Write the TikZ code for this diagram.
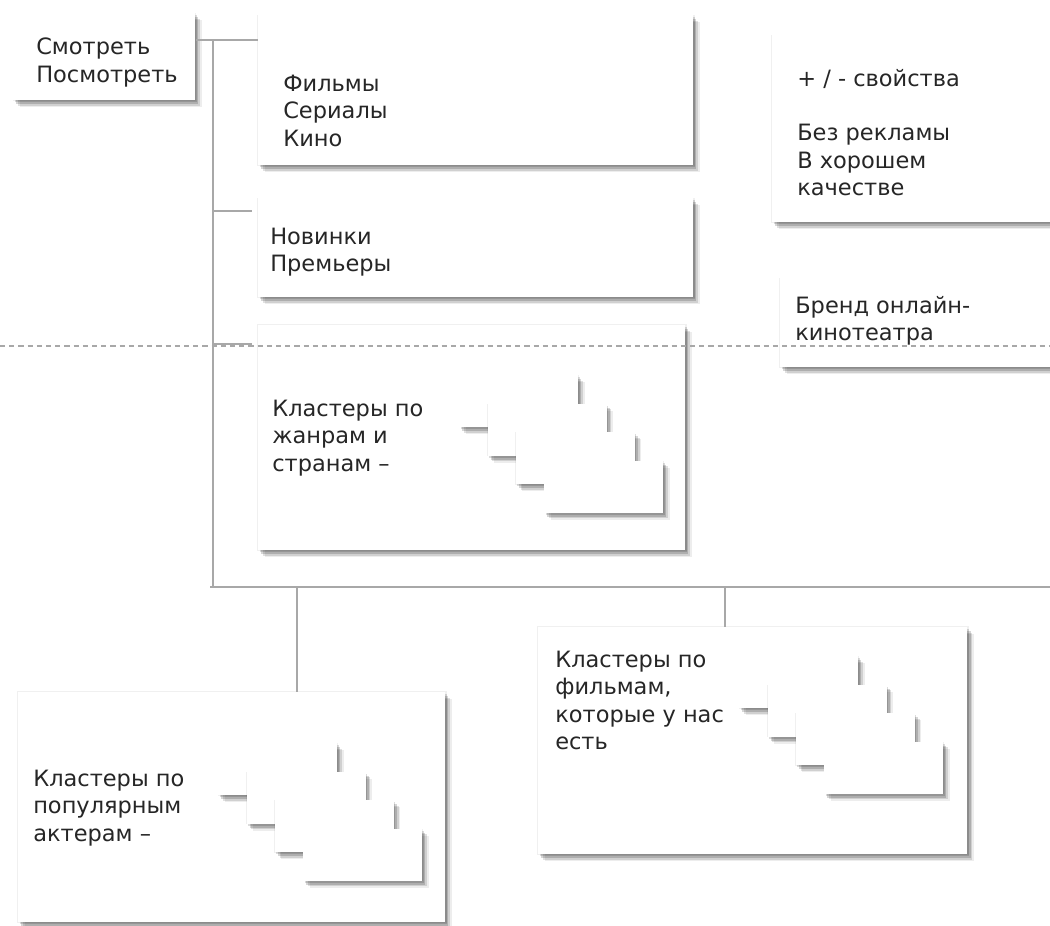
\documentclass[tikz,border=0pt]{standalone}
\usepackage{fontspec}
\setmainfont{DejaVu Sans}
\usetikzlibrary{shadows}
\definecolor{linegray}{HTML}{A8A8A8}
\definecolor{inkgray}{HTML}{262626}
\begin{document}
\begin{tikzpicture}[x=0.25mm,y=-0.25mm,
  every node/.style={font=\fontsize{16}{19.4}\selectfont, text=inkgray},
  panel/.style={fill=white, inner sep=0pt, anchor=north west,
    drop shadow={shadow xshift=0mm, shadow yshift=0mm, shadow scale=1.008, fill=black, opacity=0.06},
    drop shadow={shadow xshift=1.6mm, shadow yshift=-1.8mm, fill=black, opacity=0.07},
    drop shadow={shadow xshift=1.2mm, shadow yshift=-1.4mm, fill=black, opacity=0.12},
    drop shadow={shadow xshift=0.8mm, shadow yshift=-1mm, fill=black, opacity=0.16},
    drop shadow={shadow xshift=0.4mm, shadow yshift=-0.5mm, fill=black, opacity=0.14}},
  card/.style={panel, minimum width=29.75mm, minimum height=13mm},
  txt/.style={anchor=north west, inner sep=0pt, align=left},
  link/.style={draw=linegray, line width=0.4mm},
  dashline/.style={draw=linegray, line width=0.35mm, dash pattern=on 1.3mm off 1mm}
]

\fill[white] (0,0) rectangle (1050,925);
\useasboundingbox (0,0) rectangle (1050,925);

% boxes
\node [panel, minimum width=45.5mm, minimum height=21.75mm] (b1) at (13,13) {};
\node [panel, minimum width=108.75mm, minimum height=37.5mm] (b2) at (258,15) {};
\node [panel, minimum width=72.5mm, minimum height=46.75mm] (b3) at (772,35) {};
\node [panel, minimum width=108.75mm, minimum height=24.75mm] (b4) at (258,198) {};
\node [panel, minimum width=72.5mm, minimum height=22.25mm] (b5) at (780,278) {};
\node [panel, minimum width=106.75mm, minimum height=56.25mm] (b6) at (258,325) {};
\node [panel, minimum width=106.75mm, minimum height=57.5mm] (b7) at (18,692) {};
\node [panel, minimum width=107.25mm, minimum height=56.75mm] (b8) at (538,627) {};

% stacked cards
\foreach \i in {0,...,3} {
  \node [card] (g\i) at (459+28.3*\i,375+28.5*\i) {};
}
\foreach \i in {0,...,3} {
  \node [card] (a\i) at (218+28.3*\i,743+28.5*\i) {};
}
\foreach \i in {0,...,3} {
  \node [card] (f\i) at (739+28.3*\i,656+28.5*\i) {};
}

% texts
\node [txt] (b1t) at (36,38) {Смотреть\\Посмотреть};
\node [txt] (b2t) at (283,75) {Фильмы\\Сериалы\\Кино};
\node [txt] (b3t) at (797,69) {+ / - свойства\\[19.4pt]Без рекламы\\В хорошем\\качестве};
\node [txt] (b4t) at (270,228) {Новинки\\Премьеры};
\node [txt] (b5t) at (795,296) {Бренд онлайн-\\кинотеатра};
\node [txt] (b6t) at (272,400) {Кластеры по\\жанрам и\\странам --};
\node [txt] (b7t) at (33,770) {Кластеры по\\популярным\\актерам --};
\node [txt] (b8t) at (555,651) {Кластеры по\\фильмам,\\которые у нас\\есть};

% tree lines
\coordinate (t0) at (213,40);
\coordinate (t1) at (213,211);
\coordinate (t2) at (213,344);
\coordinate (t3) at (210,587);
\coordinate (t4) at (1050,587);
\coordinate (d1) at (297,587);
\coordinate (d2) at (725,587);

\draw [link] (b1.east |- t0) -- (b2.west |- t0);
\draw [link] (t0) -- (t0 |- t3);
\draw [link, shorten >=1.5mm] (t1) -- (b4.west |- t1);
\draw [link, shorten >=1.5mm] (t2) -- (b6.west |- t2);
\draw [link] (t3) -- (t4);
\draw [link] (d1) -- (d1 |- b7.north);
\draw [link] (d2) -- (d2 |- b8.north);

% dashed divider
\coordinate (dl) at (0,346);
\coordinate (dr) at (1050,346);
\draw [dashline] (dl) -- (dr);
\end{tikzpicture}
\end{document}
